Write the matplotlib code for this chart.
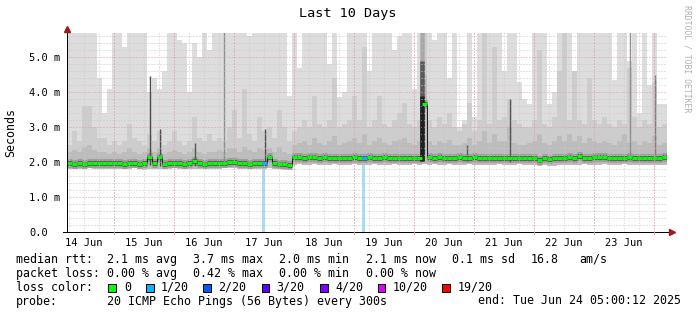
import numpy as np
import matplotlib
matplotlib.use("Agg")
import matplotlib.pyplot as plt
from matplotlib.patches import Rectangle

# ---------------- data (2-hour columns starting Jun 14 05:00) ----------------
T = 5.8  # beyond the top of the plot
col_hours = list(range(0, 240, 2))

median = [1.97, 1.96, 1.97, 1.95, 1.97, 1.98, 1.97, 1.97, 1.98, 1.97,
          1.97, 1.96, 1.97, 1.98, 1.96, 1.97, 2.15, 1.97, 2.16, 1.96,
          1.97, 1.98, 1.97, 1.96, 1.97, 2.05, 1.97, 1.96, 1.97, 1.98,
          1.97, 1.99, 2.02, 2.00, 1.99, 1.97, 1.96, 1.97, 1.97, 1.98,
          2.16, 1.97, 1.96, 1.96, 1.93,
          2.14, 2.15, 2.13, 2.14, 2.15, 2.13, 2.14, 2.13, 2.12, 2.13,
          2.12, 2.13, 2.14, 2.12, 2.11, 2.14, 2.13, 2.12, 2.14, 2.11,
          2.13, 2.12, 2.13, 2.12, 2.13, 2.13, 3.67, 2.14, 2.13, 2.15,
          2.13, 2.13, 2.12, 2.14, 2.13, 2.13, 2.14, 2.13, 2.12, 2.13,
          2.13, 2.12, 2.13, 2.13, 2.12, 2.13, 2.12, 2.13, 2.11, 2.07,
          2.11, 2.09, 2.12, 2.13, 2.12, 2.14, 2.13, 2.17, 2.13, 2.12,
          2.14, 2.16, 2.14, 2.13, 2.13, 2.12, 2.13, 2.14, 2.13, 2.12,
          2.13, 2.13, 2.11, 2.12, 2.14]

smoke_max = [T, T, T, T, T, T, 4.4, 3.4, 4.1, T,
             T, 5.3, T, T, T, T, 4.0, 4.4, 4.1, 4.6,
             T, T, 5.5, 5.4, 4.0, 5.4, 5.0, T, 5.2, T,
             T, T, T, T, T, T, 5.6, T, T, T,
             T, T, T, T, 3.9,
             T, 4.7, T, T, T, T, T, 4.8, T, 3.85,
             4.0, T, T, T, T, 4.6, T, T, T, T,
             5.2, 5.6, T, T, 4.1, T, T, T, 5.5, T,
             T, 4.4, T, 3.0, 3.2, T, 3.3, T, T, T,
             T, T, 4.6, T, T, 4.3, 3.8, 3.65, T, T,
             T, 3.65, 4.0, T, T, T, 4.6, T, T, T,
             T, T, T, T, 4.35, T, T, 4.9, T, 3.4,
             T, 4.2, T, 3.65, 3.65]

smoke_p2 = [2.5, 2.9, 2.6, 3.6, 3.6, 3.0, 2.7, 2.7, 2.5, 2.6,
            2.5, 2.6, 3.1, 2.7, 2.6, 2.5, 2.8, 2.6, 2.9, 2.5,
            2.6, 2.9, 2.6, 2.5, 2.6, 3.3, 2.7, 2.6, 2.8, 2.6,
            2.7, 2.6, 3.0, 3.5, 2.7, 4.1, 2.8, 2.6, 3.3, 2.9,
            3.0, 2.7, 3.5, 3.0, 2.6,
            2.9, 3.0, 3.2, 3.0, 3.9, 3.1, 3.0, 3.2, 4.4, 3.0,
            3.1, 3.2, 3.9, 3.2, 5.3, 3.0, 3.2, 3.9, 3.1, 3.0,
            3.2, 3.4, 3.7, 3.1, 3.0, 3.2, 5.8, 3.2, 3.0, 3.3,
            3.1, 3.4, 3.0, 2.9, 3.1, 3.7, 2.9, 3.2, 5.8, 3.1,
            5.3, 3.2, 3.3, 3.8, 3.2, 3.1, 3.0, 3.0, 3.2, 5.2,
            3.1, 3.0, 3.3, 4.6, 5.8, 3.2, 4.6, 3.2, 3.1, 4.4,
            3.2, 3.1, 3.3, 3.1, 3.0, 3.2, 3.1, 4.7, 3.3, 3.0,
            3.2, 3.1, 4.3, 3.0, 3.1]

smoke_p3 = [2.30, 2.35, 2.30, 2.45, 2.50, 2.35, 2.30, 2.30, 2.25, 2.30,
            2.25, 2.30, 2.40, 2.30, 2.25, 2.30, 2.40, 2.30, 2.40, 2.25,
            2.30, 2.35, 2.30, 2.25, 2.30, 2.40, 2.30, 2.25, 2.30, 2.30,
            2.35, 2.30, 2.40, 2.40, 2.30, 2.45, 2.35, 2.30, 2.40, 2.35,
            2.40, 2.30, 2.45, 2.30, 2.25,
            2.50, 2.55, 2.60, 2.50, 2.70, 2.55, 2.50, 2.60, 2.75, 2.50,
            2.55, 2.60, 2.70, 2.55, 2.80, 2.50, 2.60, 2.70, 2.55, 2.50,
            2.60, 2.65, 2.70, 2.55, 2.50, 2.60, 4.50, 2.60, 2.50, 2.60,
            2.55, 2.65, 2.50, 2.50, 2.55, 2.70, 2.50, 2.60, 2.90, 2.55,
            2.80, 2.60, 2.60, 3.00, 2.55, 2.50, 2.50, 2.55, 2.60, 2.80,
            2.55, 2.50, 2.60, 2.75, 2.60, 2.80, 2.60, 2.75, 2.55, 2.70,
            2.60, 2.55, 2.60, 2.55, 2.50, 2.60, 2.80, 2.55, 2.60, 2.50,
            2.60, 2.55, 2.75, 2.50, 2.55]

smoke_min = [1.82, 1.80, 1.82, 1.81, 1.83, 1.82, 1.80, 1.82, 1.81, 1.82,
             1.80, 1.81, 1.82, 1.83, 1.80, 1.79, 1.81, 1.82, 1.80, 1.81,
             1.82, 1.83, 1.82, 1.81, 1.82, 1.80, 1.82, 1.83, 1.82, 1.81,
             1.82, 1.83, 1.84, 1.83, 1.82, 1.81, 1.80, 1.82, 1.81, 1.82,
             1.83, 1.81, 1.80, 1.79, 1.78,
             1.93, 1.94, 1.93, 1.92, 1.94, 1.93, 1.92, 1.93, 1.94, 1.93,
             1.92, 1.93, 1.94, 1.92, 1.91, 1.93, 1.94, 1.93, 1.92, 1.93,
             1.94, 1.93, 1.92, 1.93, 1.94, 1.93, 1.95, 1.93, 1.94, 1.92,
             1.93, 1.94, 1.93, 1.92, 1.93, 1.94, 1.93, 1.92, 1.93, 1.92,
             1.93, 1.94, 1.93, 1.92, 1.93, 1.94, 1.93, 1.92, 1.91, 1.90,
             1.92, 1.89, 1.90, 1.92, 1.93, 1.92, 1.91, 1.93, 1.94, 1.93,
             1.92, 1.93, 1.94, 1.93, 1.92, 1.93, 1.94, 1.93, 1.92, 1.93,
             1.92, 1.91, 1.93, 1.92, 1.93]

# packet loss (of 20 pings) per column
loss = [0] * 120
loss[39] = 1
loss[59] = 1

# narrow high-ping streaks: hour position, top value, shade
spike_hours = [33.4, 37.4, 51.4, 63.0, 79.4, 142.3, 142.3, 142.3, 160.2, 177.4, 225.4, 235.4]
spike_tops = [4.45, 2.95, 2.55, 5.8, 2.95, 5.8, 4.9, 3.9, 2.5, 3.8, 5.8, 4.5]
spike_shades = ["#4a4a4a", "#4a4a4a", "#555555", "#8e8e8e", "#4a4a4a",
                "#a8a8a8", "#5a5a5a", "#202020", "#5a5a5a", "#555555",
                "#8e8e8e", "#7e7e7e"]
spike_widths = [1.4, 1.4, 1.4, 1.4, 1.4, 4.5, 4.5, 4.5, 1.4, 1.4, 1.4, 1.4]

day_labels = ["14 Jun", "15 Jun", "16 Jun", "17 Jun", "18 Jun",
              "19 Jun", "20 Jun", "21 Jun", "22 Jun", "23 Jun"]
ytick_vals = [0, 1, 2, 3, 4, 5]
ytick_labels = ["0.0", "1.0 m", "2.0 m", "3.0 m", "4.0 m", "5.0 m"]

loss_levels = ["0", "1/20", "2/20", "3/20", "4/20", "10/20", "19/20"]
loss_colors = ["#00ff00", "#00b8ff", "#0059ff", "#5e00ff", "#7e00ff", "#dd00ff", "#ff0000"]

# ---------------- figure ----------------
W, H = 697, 315
DPI = 100
fig = plt.figure(figsize=(W / DPI, H / DPI), dpi=DPI)
fig.patch.set_facecolor("white")
MONO = "DejaVu Sans Mono"

ax_l, ax_r, ax_b, ax_t = 66.5, 666.5, 232.3, 32.7
ax = fig.add_axes([ax_l / W, 1 - ax_b / H, (ax_r - ax_l) / W, (ax_b - ax_t) / H])
ax.set_xlim(0, 240)
ax.set_ylim(0, 5.70)
ax.set_facecolor("white")
for s in ax.spines.values():
    s.set_visible(False)

PX = 72.0 / DPI  # points per pixel

edges = np.array(col_hours + [col_hours[-1] + 2], dtype=float)
def ext(a):
    a = np.asarray(a, dtype=float)
    return np.append(a, a[-1])

mx = np.asarray(smoke_max)
p2 = np.minimum(np.asarray(smoke_p2), mx)
p3 = np.minimum(np.asarray(smoke_p3), p2)
mn = np.asarray(smoke_min)
md = np.asarray(median)
hs = np.asarray(col_hours, dtype=float)

ax.fill_between(edges, ext(mn), ext(mx), step="post", color="#dddddd", lw=0, zorder=1)
ax.fill_between(edges, ext(mn), ext(p2), step="post", color="#cdcdcd", lw=0, zorder=2)
ax.fill_between(edges, ext(mn), ext(p3), step="post", color="#bcbcbc", lw=0, zorder=3)

# dark core around the median (per column, no connectors)
ax.hlines(md, hs, hs + 2, colors="#9c9c9c", lw=9 * PX, zorder=4, capstyle="butt")
ax.hlines(md, hs, hs + 2, colors="#5e5e5e", lw=5 * PX, zorder=4, capstyle="butt")

# spikes (from the bottom of the smoke upwards)
for h, top, c, w in zip(spike_hours, spike_tops, spike_shades, spike_widths):
    base = mn[int(h // 2)] + 0.1
    ax.vlines(h, base, top, colors=c, lw=w * PX, zorder=5)

# loss bars
for i, l in enumerate(loss):
    if l > 0:
        ax.bar(col_hours[i] + 0.2, mn[i], width=1.2, bottom=0, align="edge",
               color="#a6def5", lw=0, zorder=6)

# grid
for hx in np.arange(1, 240, 6):
    ax.axvline(hx, color="#c8c8c8", lw=PX, ls=(0, (1, 2)), zorder=7)
for hy in np.arange(0.2, 5.7, 0.2):
    if abs(hy - round(hy)) > 1e-6:
        ax.axhline(hy, color="#c8c8c8", lw=PX, ls=(0, (1, 2)), zorder=7)
midnights = np.arange(19, 240, 24)
for hx in midnights:
    ax.axvline(hx, color="#e39a9a", lw=PX, ls=(0, (1, 2)), zorder=8)
for hy in [1, 2, 3, 4, 5]:
    ax.axhline(hy, color="#e39a9a", lw=PX, ls=(0, (1, 2)), zorder=8)

# median: thin dark step + coloured segments
ax.step(edges, ext(md), where="post", color="#202020", lw=1 * PX, zorder=9)
seg_colors = [loss_colors[min(l, 2)] for l in loss]
ax.hlines(md, hs, hs + 2, colors=seg_colors, lw=3 * PX, zorder=10, capstyle="butt")

# axes lines and arrows
ax.plot([-3.5 / 600 * 240, 240 + 4 / 600 * 240], [0, 0], color="#000000", lw=PX, clip_on=False, zorder=11)
ax.plot([0, 0], [0, 5.70 + 3 / 35], color="#000000", lw=PX, clip_on=False, zorder=11)
ax.plot([240 + 5 / 2.5], [0], marker=">", ms=5, color="#a01818", mec="#a01818", clip_on=False, zorder=12)
ax.plot([0], [5.70 + 4 / 35], marker="^", ms=5, color="#a01818", mec="#a01818", clip_on=False, zorder=12)

# ticks
ax.set_xticks(np.arange(7, 240, 24))
ax.set_xticklabels(day_labels, fontfamily=MONO, fontsize=7.5, color="#000000")
ax.tick_params(axis="x", length=0, pad=4)
for hx in midnights:
    ax.plot([hx, hx], [0, -2 / 35], color="#e39a9a", lw=PX, clip_on=False, zorder=11)
ax.set_yticks(ytick_vals)
ax.set_yticklabels(ytick_labels, fontfamily=MONO, fontsize=7.5, color="#000000")
ax.tick_params(axis="y", length=0, pad=(ax_l - 29.3) * PX)
for t in ax.get_yticklabels():
    t.set_horizontalalignment("left")

# texts
def fx(x):
    return x / W
def fy(y):
    return 1 - y / H

fig.text(fx(347.5), fy(14), "Last 10 Days", ha="center", va="center", fontfamily=MONO, fontsize=9.7)
fig.text(fx(11), fy(132.5), "Seconds", ha="center", va="center", rotation=90, fontfamily=MONO, fontsize=8.4)
fig.text(fx(686.5), fy(59), "RRDTOOL / TOBI OETIKER", ha="center", va="center", rotation=270,
         fontfamily=MONO, fontsize=5.9, color="#b0b0b0")

LF = 8.4
rows = [
    (259.3, [(16, "median rtt:"), (107.3, "2.1 ms avg"), (193.3, "3.7 ms max"), (279.3, "2.0 ms min"),
             (366, "2.1 ms now"), (451.7, "0.1 ms sd"), (530.7, "16.8"), (579.3, "am/s")]),
    (273.3, [(16, "packet loss:"), (107.3, "0.00 % avg"), (193.3, "0.42 % max"), (279.3, "0.00 % min"),
             (366, "0.00 % now")]),
    (287.3, [(16, "loss color:")]),
    (301.0, [(16, "probe:"), (107.3, "20 ICMP Echo Pings (56 Bytes) every 300s"),
             (478.3, "end: Tue Jun 24 05:00:12 2025")]),
]
for y, items in rows:
    for x, s in items:
        fig.text(fx(x), fy(y), s, ha="left", va="center", fontfamily=MONO, fontsize=LF)

sq_x = [108.3, 146.0, 203.3, 261.7, 320.0, 377.7, 442.3]
lab_x = [124.0, 160.7, 218.3, 276.7, 335.0, 392.7, 457.3]
for sx, lx, lab, col in zip(sq_x, lab_x, loss_levels, loss_colors):
    fig.patches.append(Rectangle((fx(sx), fy(291.5)), 7.5 / W, 8 / H, transform=fig.transFigure,
                                 facecolor=col, edgecolor="#000000", lw=PX, figure=fig))
    fig.text(fx(lx), fy(287.3), lab, ha="left", va="center", fontfamily=MONO, fontsize=LF)

fig.savefig("out.png", dpi=DPI, facecolor="white")
